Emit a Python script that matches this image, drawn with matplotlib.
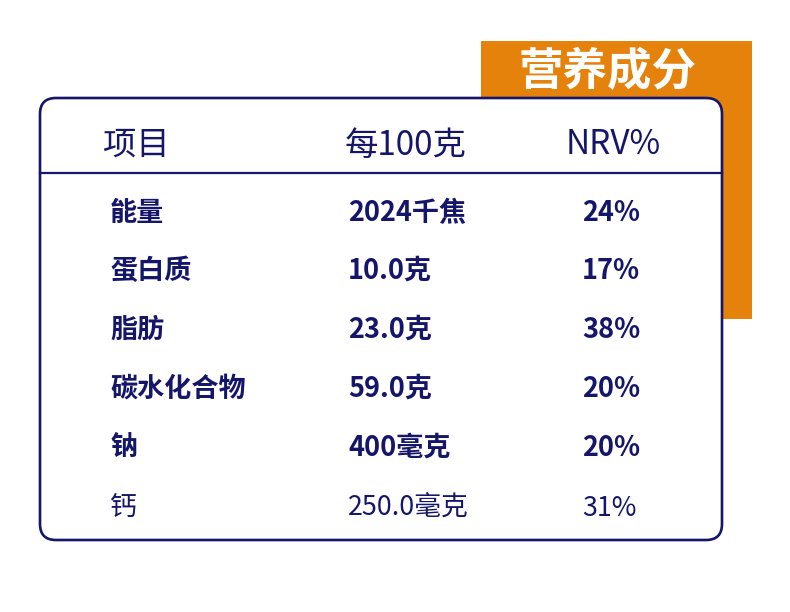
import matplotlib
matplotlib.use("Agg")
import matplotlib.pyplot as plt
from matplotlib.patches import FancyBboxPatch, Rectangle

plt.rcParams['font.family'] = ['Noto Sans CJK SC', 'DejaVu Sans']

title = "营养成分"
headers = ["项目", "每100克", "NRV%"]
items = ["能量", "蛋白质", "脂肪", "碳水化合物", "钠", "钙"]
per100 = ["2024千焦", "10.0克", "23.0克", "59.0克", "400毫克", "250.0毫克"]
nrv = ["24%", "17%", "38%", "20%", "20%", "31%"]
bold_rows = [True, True, True, True, True, False]

navy = "#15156a"
orange = "#E5820C"

fig = plt.figure(figsize=(7.9, 6.12), dpi=100)
ax = fig.add_axes([0, 0, 1, 1])
ax.set_xlim(0, 790)
ax.set_ylim(612, 0)
ax.axis('off')

# orange tab
ax.add_patch(Rectangle((481, 41), 271, 278, facecolor=orange, edgecolor='none', zorder=1))
ax.text(608, 72, title, color='white', fontsize=32, fontweight='bold',
        ha='center', va='center', zorder=5)

# card
ax.add_patch(FancyBboxPatch((40, 98), 682, 442,
                            boxstyle="round,pad=0,rounding_size=16",
                            facecolor='white', edgecolor=navy, linewidth=1.9, zorder=2))
ax.plot([40, 722], [173, 173], color=navy, linewidth=1.6, zorder=3)

# headers
hx = [136, 406, 613]
for x, h in zip(hx, headers):
    ax.text(x, 145, h, color=navy, fontsize=24, ha='center', va='center', zorder=5)

row_y = [213, 271, 330, 389, 448, 508]
for y, name, v, n, b in zip(row_y, items, per100, nrv, bold_rows):
    w = 'bold' if b else 'normal'
    fs = 19.5 if b else 19.3
    ax.text(110, y, name, color=navy, fontsize=fs, fontweight=w, ha='left', va='center', zorder=5)
    ax.text(348, y, v, color=navy, fontsize=fs, fontweight=w, ha='left', va='center', zorder=5)
    ax.text(582, y, n, color=navy, fontsize=fs, fontweight=w, ha='left', va='center', zorder=5)

fig.savefig("out.png", dpi=100)
